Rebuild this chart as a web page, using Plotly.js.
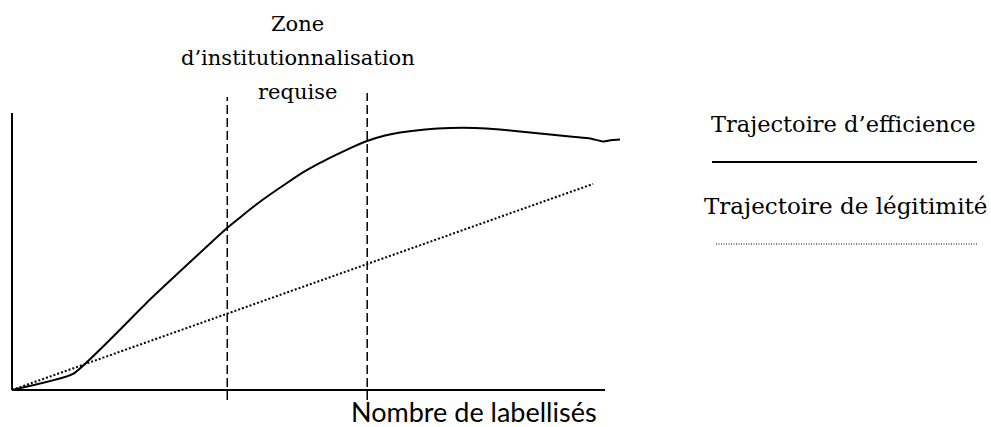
<!DOCTYPE html>
<html>
<head>
<meta charset="utf-8">
<script src="https://cdn.plot.ly/plotly-3.0.1.min.js"></script>
<style>
  html, body { margin: 0; padding: 0; background: #fff; }
  #plot { width: 991px; height: 427px; }
</style>
</head>
<body>
<div id="plot"></div>
<script>
const efficienceX = [0, 10.29, 23.27, 36.26, 38.45, 40.64, 43.51, 46.37, 49.07, 51.94, 54.81, 57.50, 59.87, 62.90,
  65.43, 69.65, 73.86, 78.08, 82.29, 86.51, 90.73, 94.94, 97.47, 99.66, 101.18, 102.53];
const efficienceY = [0, 5.78, 32.67, 58.48, 62.27, 66.06, 70.58, 74.73, 78.52, 81.95, 85.02, 87.73, 89.89, 91.88,
  92.96, 94.04, 94.58, 94.58, 94.04, 93.14, 92.24, 91.34, 90.79, 89.71, 90.25, 90.43];

const legitimiteX = [0, 98.0];
const legitimiteY = [0, 74.4];

// bornes de la zone d'institutionnalisation
const zoneBornes = [36.3, 59.9];
const zoneHaut = [105.8, 107.2];

const axeXFin = 100;
const axeYFin = 100;

const zoneLignes = ['Zone', 'd’institutionnalisation', 'requise'];
const zoneLignesY = [1.1697, 1.0667, 0.9636];
const axeXTitre = 'Nombre de labellisés';
const legendeTextes = ['Trajectoire d’efficience', 'Trajectoire de légitimité'];

const serif = 'DejaVu Serif';

const traces = [
  {
    x: efficienceX, y: efficienceY,
    mode: 'lines', type: 'scatter',
    line: { color: '#000', width: 2, shape: 'spline', smoothing: 0.4 },
    hoverinfo: 'skip'
  },
  {
    x: legitimiteX, y: legitimiteY,
    mode: 'lines', type: 'scatter',
    line: { color: '#000', width: 2, dash: '2px,2px' },
    hoverinfo: 'skip'
  }
];

// axes tracés à la main (pas de graduations)
const shapes = [
  { type: 'line', xref: 'x', yref: 'y', x0: 0, x1: 0, y0: 0, y1: axeYFin, line: { color: '#000', width: 2 } },
  { type: 'line', xref: 'x', yref: 'y', x0: 0, x1: axeXFin, y0: 0, y1: 0, line: { color: '#000', width: 2 } }
];
zoneBornes.forEach((b, i) => {
  shapes.push({
    type: 'line', xref: 'x', yref: 'y', x0: b, x1: b, y0: -3.6, y1: zoneHaut[i],
    line: { color: '#000', width: 1.5, dash: '9px,4px' }
  });
});
// échantillons de la légende
shapes.push({ type: 'line', xref: 'paper', yref: 'paper', x0: 1.1134, x1: 1.5307, y0: 0.7515, y1: 0.7515, line: { color: '#000', width: 2 } });
shapes.push({ type: 'line', xref: 'paper', yref: 'paper', x0: 1.1197, x1: 1.5307, y0: 0.503, y1: 0.503, line: { color: '#000', width: 1, dash: '1px,1.5px' } });

const annotations = zoneLignes.map((t, i) => ({
  text: t, xref: 'paper', yref: 'paper', x: 0.4614, y: zoneLignesY[i], showarrow: false,
  xanchor: 'center', yanchor: 'middle', font: { family: serif, size: 21, color: '#000' }
}));
annotations.push(
  { text: legendeTextes[0], xref: 'paper', yref: 'paper', x: 1.321, y: 0.8667, showarrow: false,
    xanchor: 'center', yanchor: 'middle', font: { family: serif, size: 22.5, color: '#000' } },
  { text: legendeTextes[1], xref: 'paper', yref: 'paper', x: 1.323, y: 0.618, showarrow: false,
    xanchor: 'center', yanchor: 'middle', font: { family: serif, size: 23, color: '#000' } },
  { text: axeXTitre, xref: 'paper', yref: 'paper', x: 0.7378, y: -0.004, showarrow: false,
    xanchor: 'center', yanchor: 'middle', font: { family: 'Lato, sans-serif', size: 27, color: '#000' } }
);

const layout = {
  width: 991, height: 427,
  margin: { l: 5, r: 351, t: 80, b: 17 },
  paper_bgcolor: '#fff', plot_bgcolor: '#fff',
  showlegend: false,
  xaxis: { range: [-1.18, 105.9], showgrid: false, zeroline: false, showline: false, showticklabels: false, ticks: '' },
  yaxis: { range: [-7.22, 111.9], showgrid: false, zeroline: false, showline: false, showticklabels: false, ticks: '' },
  shapes: shapes,
  annotations: annotations
};

Plotly.newPlot('plot', traces, layout, { displayModeBar: false, staticPlot: true });
</script>
</body>
</html>
